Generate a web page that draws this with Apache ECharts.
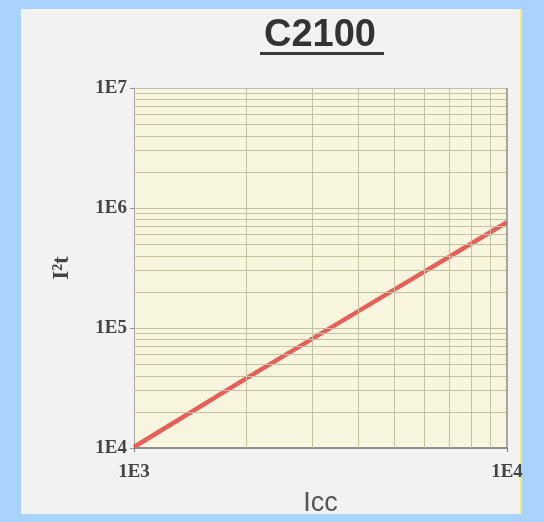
<!DOCTYPE html>
<html>
<head>
<meta charset="utf-8">
<script src="https://cdn.jsdelivr.net/npm/echarts@6/dist/echarts.min.js"></script>
<style>
html,body{margin:0;padding:0;width:544px;height:522px;background:#a9d2fd;overflow:hidden;}
#panel{position:absolute;left:21px;top:9px;width:499px;height:505px;background:#f2f2f2;border-right:2px solid #f3ec78;}
#chart{position:absolute;left:0;top:0;width:544px;height:522px;}
</style>
</head>
<body>
<div id="panel"></div>
<div id="chart"></div>
<script>
// Data
const icc = [1000, 2000, 5000, 10000];
const i2t = [10200, 38000, 210000, 760000];
const xTickLabels = ['1E3', '1E4'];
const yTickLabels = ['1E4', '1E5', '1E6', '1E7'];
const xRange = [1000, 10000];
const yRange = [10000, 10000000];

// Log grid lines (1..9 per decade)
const xGrid = [];
for (let d = 2; d <= 9; d++) xGrid.push(d * 1000);
const yGrid = [];
[10000, 100000, 1000000].forEach(b => { for (let d = 2; d <= 9; d++) yGrid.push(d * b); });
yGrid.push(100000, 1000000, 10000000);

function labelFor(list, v) {
  const e = Math.round(Math.log10(v));
  const s = '1E' + e;
  return list.indexOf(s) >= 0 ? s : '';
}

const chart = echarts.init(document.getElementById('chart'), null, {renderer: 'canvas'});
const gridColor = '#c6c0a3';
chart.setOption({
  backgroundColor: 'transparent',
  animation: false,
  grid: {left: 134, right: 37, top: 88, bottom: 69, show: true, backgroundColor: '#f8f5df', borderWidth: 0},
  graphic: [
    {type: 'text', x: 320, y: 36, style: {text: 'C2100', fontFamily: 'Liberation Sans', fontWeight: 'bold', fontSize: 38, fill: '#333', textAlign: 'center', textVerticalAlign: 'middle'}},
    {type: 'rect', shape: {x: 260, y: 52, width: 124, height: 3}, style: {fill: '#3a3a3a'}}
  ],
  xAxis: {
    type: 'log', logBase: 10, min: xRange[0], max: xRange[1],
    name: 'Icc', nameLocation: 'middle', nameGap: 42,
    nameTextStyle: {fontFamily: 'Liberation Sans', fontSize: 27, color: '#555'},
    axisLine: {show: true, lineStyle: {color: '#6e6e6e', width: 1.5}},
    axisTick: {show: true, length: 4, lineStyle: {color: '#777'}},
    splitLine: {show: false},
    axisLabel: {margin: 15, fontFamily: 'Liberation Serif', fontWeight: 'bold', fontSize: 19, color: '#444',
      formatter: v => labelFor(xTickLabels, v)}
  },
  yAxis: {
    type: 'log', logBase: 10, min: yRange[0], max: yRange[1],
    name: 'I²t', nameLocation: 'middle', nameGap: 60, nameRotate: 90,
    nameTextStyle: {fontFamily: 'Liberation Serif', fontWeight: 'bold', fontSize: 23, color: '#444'},
    axisLine: {show: true, lineStyle: {color: '#a8a8a8', width: 1}},
    axisTick: {show: true, length: 4, lineStyle: {color: '#999'}},
    splitLine: {show: false},
    axisLabel: {margin: 7, fontFamily: 'Liberation Serif', fontWeight: 'bold', fontSize: 19, color: '#444',
      formatter: v => labelFor(yTickLabels, v)}
  },
  series: [
    {
      type: 'line', data: [], z: 1, silent: true,
      markLine: {
        silent: true, symbol: 'none', label: {show: false},
        lineStyle: {color: gridColor, width: 1, type: 'solid'},
        data: xGrid.map(v => ({xAxis: v})).concat(yGrid.map(v => ({yAxis: v})))
      }
    },
    {
      type: 'line', data: [], z: 2, silent: true,
      markLine: {
        silent: true, symbol: 'none', label: {show: false},
        lineStyle: {color: '#8c8c8c', width: 1.5, type: 'solid'},
        data: [{xAxis: xRange[1]}]
      }
    },
    {
      type: 'line', z: 3,
      data: icc.map((x, i) => [x, i2t[i]]),
      showSymbol: false,
      lineStyle: {color: '#e6605a', width: 4.5}
    }
  ]
});
</script>
</body>
</html>
